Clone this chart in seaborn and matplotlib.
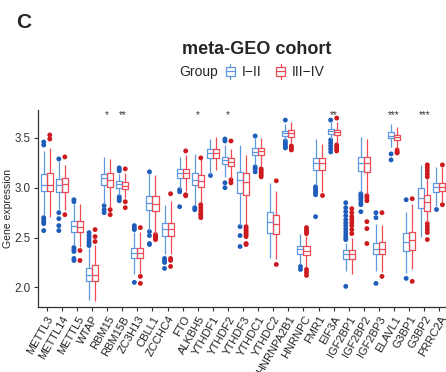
import matplotlib
matplotlib.use("Agg")
import matplotlib.pyplot as plt
from matplotlib.legend_handler import HandlerBase
from matplotlib.patches import Rectangle
from matplotlib.lines import Line2D
import seaborn as sns
import pandas as pd

genes = ["METTL3", "METTL14", "METTL5", "WTAP", "RBM15", "RBM15B", "ZC3H13", "CBLL1",
         "ZCCHC4", "FTO", "ALKBH5", "YTHDF1", "YTHDF2", "YTHDF3", "YTHDC1", "YTHDC2",
         "HNRNPA2B1", "HNRNPC", "FMR1", "EIF3A", "IGF2BP1", "IGF2BP2", "IGF2BP3",
         "ELAVL1", "G3BP1", "G3BP2", "PRRC2A"]
groups = ["I\u2212II", "III\u2212IV"]

# Group I-II box statistics
lo_a  = [2.73, 2.78, 2.43, 1.87, 2.84, 2.93, 2.13, 2.58, 2.34, 2.99, 2.83, 3.14, 3.11, 2.63,
         3.23, 2.29, 3.48, 2.23, 3.03, 3.49, 2.16, 2.96, 2.16, 3.41, 2.14, 2.51, 2.82]
q1_a  = [2.97, 2.96, 2.56, 2.06, 3.03, 2.995, 2.29, 2.78, 2.52, 3.10, 3.03, 3.295, 3.235, 2.945,
         3.33, 2.545, 3.52, 2.335, 3.18, 3.545, 2.285, 3.165, 2.335, 3.495, 2.37, 2.795, 2.96]
med_a = [3.03, 3.03, 2.62, 2.12, 3.10, 3.035, 2.35, 2.85, 2.59, 3.145, 3.08, 3.345, 3.275, 3.08,
         3.36, 2.655, 3.555, 2.385, 3.245, 3.575, 2.34, 3.245, 2.385, 3.525, 2.46, 2.895, 3.01]
q3_a  = [3.14, 3.09, 2.67, 2.19, 3.14, 3.065, 2.40, 2.92, 2.65, 3.19, 3.15, 3.385, 3.31, 3.16,
         3.395, 2.76, 3.575, 2.42, 3.30, 3.595, 2.38, 3.31, 2.445, 3.56, 2.545, 2.995, 3.045]
hi_a  = [3.37, 3.27, 2.84, 2.40, 3.31, 3.14, 2.56, 3.14, 2.83, 3.31, 3.34, 3.49, 3.43, 3.43,
         3.50, 3.05, 3.64, 2.54, 3.49, 3.66, 2.45, 3.51, 2.64, 3.64, 2.76, 3.23, 3.21]
out_a = [[3.46, 3.43, 2.70, 2.68, 2.66, 2.64, 2.57],
         [3.29, 2.75, 2.69, 2.62, 2.57],
         [2.88, 2.86, 2.40, 2.38, 2.36, 2.29, 2.27],
         [2.55, 2.52, 2.49, 2.46, 2.44, 2.42],
         [2.82, 2.78, 2.75],
         [3.20, 3.18, 3.17, 2.91, 2.89, 2.87],
         [2.62, 2.60, 2.58, 2.05],
         [3.16, 2.56, 2.52, 2.44, 2.43],
         [2.29, 2.27, 2.25, 2.19],
         [2.98, 2.96, 2.81],
         [2.80, 2.78],
         [3.13],
         [3.49, 3.47, 3.05, 3.00],
         [2.61, 2.52, 2.41],
         [3.52, 3.21, 3.19, 3.16],
         [],
         [3.68, 3.47, 3.45, 3.43, 3.41, 3.40],
         [2.21, 2.18],
         [3.01, 2.99, 2.97, 2.95, 2.93, 2.71],
         [3.68, 3.48, 3.45, 3.42, 3.39, 3.36],
         [2.85, 2.80, 2.76, 2.72, 2.68, 2.65, 2.62, 2.59, 2.56, 2.53, 2.50, 2.48, 2.01],
         [2.94, 2.92, 2.90, 2.88, 2.85, 2.83, 2.76],
         [2.75, 2.70, 2.04],
         [3.34, 3.28],
         [2.88, 2.09],
         [],
         [2.79]]

# Group III-IV box statistics
lo_b  = [2.71, 2.78, 2.41, 1.86, 2.80, 2.90, 2.14, 2.54, 2.33, 2.97, 2.86, 3.18, 3.09, 2.63,
         3.22, 2.28, 3.45, 2.20, 2.96, 3.44, 2.13, 2.94, 2.15, 3.39, 2.18, 2.66, 2.86]
q1_b  = [2.97, 2.955, 2.56, 2.065, 3.01, 2.985, 2.29, 2.77, 2.52, 3.10, 3.01, 3.295, 3.22, 2.93,
         3.33, 2.535, 3.51, 2.325, 3.18, 3.53, 2.285, 3.16, 2.33, 3.48, 2.38, 2.77, 2.965]
med_b = [3.03, 3.035, 2.61, 2.125, 3.075, 3.02, 2.35, 2.84, 2.585, 3.145, 3.07, 3.345, 3.26, 3.055,
         3.365, 2.635, 3.55, 2.37, 3.245, 3.56, 2.34, 3.245, 2.385, 3.51, 2.475, 2.855, 3.01]
q3_b  = [3.15, 3.095, 2.67, 2.22, 3.15, 3.055, 2.40, 2.92, 2.65, 3.19, 3.13, 3.385, 3.30, 3.145,
         3.395, 2.73, 3.585, 2.42, 3.30, 3.585, 2.38, 3.31, 2.455, 3.535, 2.56, 2.93, 3.05]
hi_b  = [3.40, 3.23, 2.84, 2.43, 3.29, 3.15, 2.56, 3.13, 2.87, 3.33, 3.29, 3.51, 3.39, 3.33,
         3.50, 2.97, 3.66, 2.52, 3.44, 3.66, 2.50, 3.49, 2.63, 3.61, 2.84, 3.09, 3.21]
out_b = [[3.53, 3.49],
         [3.31, 2.73],
         [2.37, 2.27],
         [2.58, 2.51, 2.46],
         [2.78, 2.73],
         [3.19, 2.86, 2.80],
         [2.60, 2.11, 2.04],
         [2.53, 2.51, 2.50, 2.49, 2.48],
         [2.94, 2.29, 2.27, 2.21],
         [3.37, 2.93, 2.92],
         [3.30, 2.83, 2.80, 2.77, 2.74, 2.72, 2.70],
         [],
         [3.47, 3.08, 3.05],
         [2.61, 2.59, 2.57, 2.55, 2.53, 2.51, 2.44, 2.43],
         [3.19, 3.17, 3.15, 3.13, 3.11],
         [3.07, 2.23],
         [3.42, 3.40, 3.38],
         [2.60, 2.58, 2.56, 2.54, 2.18, 2.15, 2.12],
         [2.93],
         [3.70, 3.43, 3.41, 3.39, 3.37],
         [2.79, 2.75, 2.71, 2.68, 2.65, 2.62, 2.58, 2.54],
         [2.92, 2.90, 2.87, 2.66, 2.59, 2.44],
         [2.75, 2.11],
         [3.38, 3.36, 3.35],
         [2.89, 2.06],
         [3.23, 3.20, 3.17, 3.14, 3.11, 2.64, 2.61, 2.58, 2.55, 2.48],
         [3.23, 2.83]]

sig_genes = ["RBM15", "RBM15B", "ALKBH5", "YTHDF2", "EIF3A", "ELAVL1", "G3BP2"]
sig_labels = ["*", "**", "*", "*", "**", "***", "***"]

edge_colors = {"I\u2212II": "#5E98E2", "III\u2212IV": "#EE4B55"}
point_colors = {"I\u2212II": "#1F5DBA", "III\u2212IV": "#CC1A1F"}

# Build tables
box_rows = []
for grp, stats in zip(groups, [(lo_a, q1_a, med_a, q3_a, hi_a), (lo_b, q1_b, med_b, q3_b, hi_b)]):
    for i, g in enumerate(genes):
        for arr in stats:
            box_rows.append((g, grp, arr[i]))
box_df = pd.DataFrame(box_rows, columns=["gene", "group", "value"])

out_rows = []
for grp, outs in zip(groups, [out_a, out_b]):
    for g, vals in zip(genes, outs):
        for v in vals:
            out_rows.append((g, grp, v))
out_df = pd.DataFrame(out_rows, columns=["gene", "group", "value"])

sns.set_style("ticks")
plt.rcParams["font.family"] = ["Liberation Sans", "DejaVu Sans"]

fig = plt.figure(figsize=(4.46, 3.72), dpi=100)
ax = fig.add_axes([0.0845, 0.174, 0.921, 0.530])

sns.boxplot(data=box_df, x="gene", y="value", hue="group", order=genes, hue_order=groups,
            palette=edge_colors, fill=False, whis=(0, 100), showfliers=False,
            width=0.8, gap=0, linewidth=0.9, saturation=1, legend=False, ax=ax,
            capprops=dict(linewidth=0))
sns.stripplot(data=out_df, x="gene", y="value", hue="group", order=genes, hue_order=groups,
              palette=point_colors, dodge=True, jitter=False, size=3.5, linewidth=0,
              legend=False, ax=ax, zorder=1)

for g, lab in zip(sig_genes, sig_labels):
    ax.text(genes.index(g), 3.735, lab, ha="center", va="center", fontsize=7, color="#333333")

ax.set_xlim(-0.6, 26.6)
ax.set_ylim(1.80, 3.78)
ax.set_yticks([2.0, 2.5, 3.0, 3.5])
ax.set_yticklabels(["2.0", "2.5", "3.0", "3.5"], fontsize=8.4, color="#333333")
ax.set_xticks(range(len(genes)))
ax.set_xticklabels(genes, rotation=60, ha="right", va="top", rotation_mode="anchor",
                   fontsize=8, color="#222222")
ax.tick_params(axis="both", length=3, width=0.8, color="#333333", pad=2)
ax.set_xlabel("")
ax.set_ylabel("Gene expression", fontsize=7.5, labelpad=1.5)
for s in ["top", "right"]:
    ax.spines[s].set_visible(False)
for s in ["left", "bottom"]:
    ax.spines[s].set_linewidth(0.9)
    ax.spines[s].set_color("#333333")


class BoxKey(HandlerBase):
    def create_artists(self, legend, orig_handle, xdescent, ydescent, width, height, fontsize, trans):
        c = orig_handle.get_color()
        cx = xdescent * -1 + width / 2
        bw = width * 0.9
        bh = height * 0.75
        y0 = -ydescent + (height - bh) / 2
        rect = Rectangle((cx - bw / 2, y0), bw, bh, fill=False, edgecolor=c, linewidth=0.9, transform=trans)
        med = Line2D([cx - bw / 2, cx + bw / 2], [y0 + bh / 2] * 2, color=c, linewidth=0.9, transform=trans)
        w1 = Line2D([cx, cx], [y0 + bh, y0 + bh + height * 0.3], color=c, linewidth=0.9, transform=trans)
        w2 = Line2D([cx, cx], [y0, y0 - height * 0.3], color=c, linewidth=0.9, transform=trans)
        return [rect, med, w1, w2]


handles = [Line2D([], [], color=edge_colors[g]) for g in groups]
fig.legend(handles, groups, handler_map={Line2D: BoxKey()}, loc="center left",
           bbox_to_anchor=(0.505, 0.806), ncol=2, frameon=False, fontsize=10,
           handlelength=0.75, handleheight=0.9, handletextpad=0.45, columnspacing=1.0,
           borderpad=0, borderaxespad=0)
fig.text(0.403, 0.806, "Group", fontsize=10, ha="left", va="center")
fig.text(0.576, 0.866, "meta-GEO cohort", fontsize=13, fontweight="bold", ha="center", va="center")
fig.text(0.037, 0.94, "C", fontsize=15, fontweight="bold", ha="left", va="center")

fig.savefig("out.png", dpi=100)
